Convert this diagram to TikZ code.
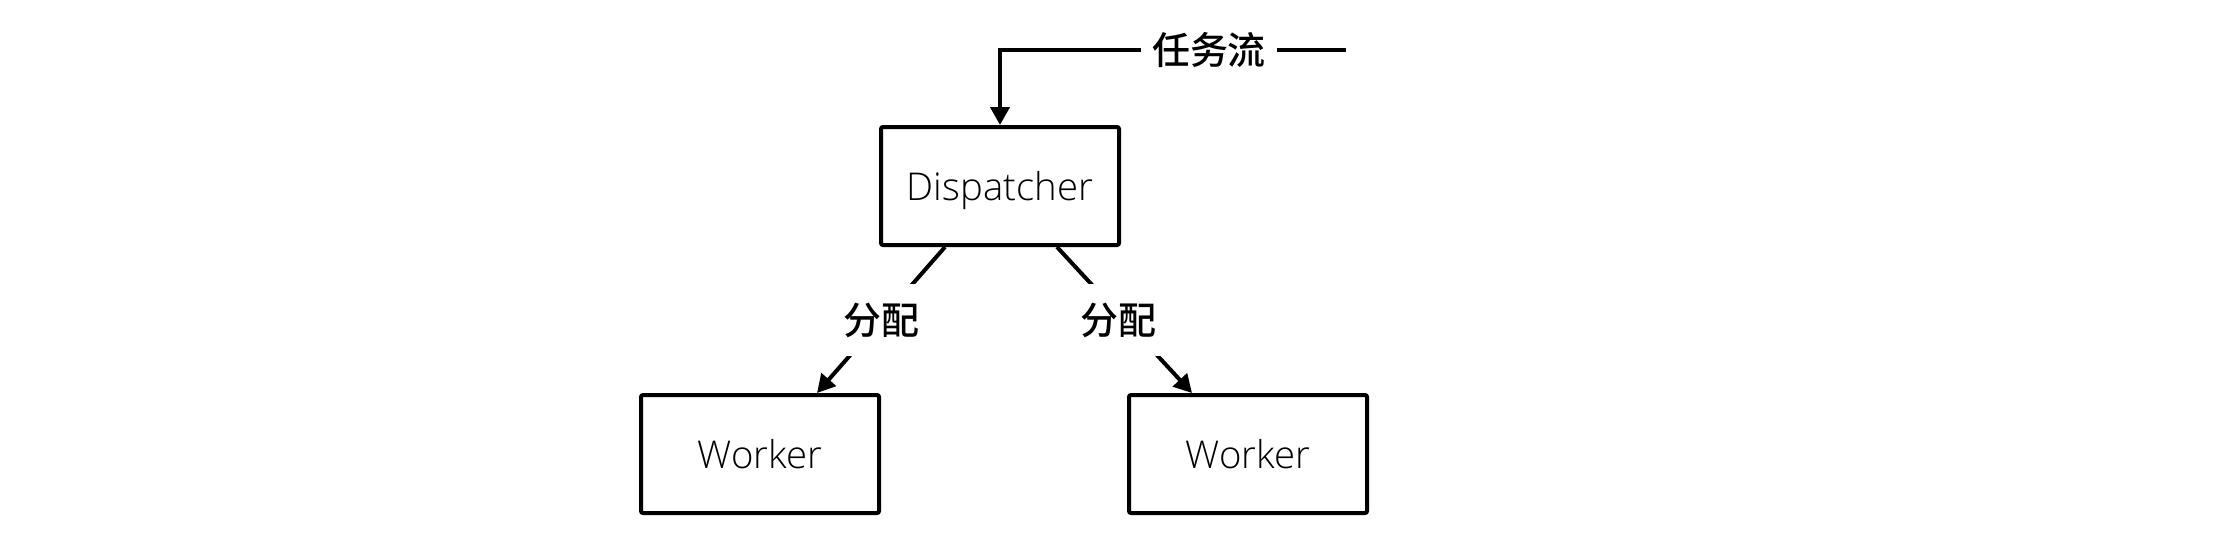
\documentclass[tikz,border=0pt]{standalone}
\usepackage{fontspec}
\setmainfont{Noto Sans CJK SC}
\newfontfamily\cjkmed{Noto Sans CJK SC Medium}
\newfontfamily\latinfont{Open Sans}[UprightFont={* Light}]
\usetikzlibrary{arrows.meta}
\begin{document}
\begin{tikzpicture}[x=0.02cm,y=-0.02cm,
  box/.style={draw=black,line width=0.08cm,rounded corners=0.04cm,fill=white,
    minimum width=238*0.02cm,minimum height=118*0.02cm,inner sep=0pt,
    text height=17pt,text depth=0pt,
    font=\latinfont\fontsize{21.8pt}{26pt}\selectfont},
  lab/.style={fill=white,inner xsep=11.5*0.02cm,inner ysep=17*0.02cm,
    text height=19pt,text depth=2.6pt,
    font=\cjkmed\fontsize{21.6pt}{25pt}\selectfont},
  conn/.style={line width=0.08cm,-{Triangle[length=18*0.02cm,width=19*0.02cm]}}
]
\useasboundingbox (0,0) rectangle (2234,532);
\node[box] (disp) at (1000,186) {Dispatcher};
\node[box] (w1) at (760,454) {Worker};
\node[box] (w2) at (1248,454) {Worker};
\coordinate (start) at (1346,50);
\coordinate (corner) at (1000,50);
\draw[conn] (start) -- node[lab,pos=0.396] (tlab) {任务流} (corner) -- (disp.north);
\draw[conn] ([xshift=-55*0.02cm]disp.south) -- node[lab] (l1) {分配} ([xshift=57*0.02cm]w1.north);
\draw[conn] ([xshift=57*0.02cm]disp.south) -- node[lab,xshift=-6*0.02cm] (l2) {分配} ([xshift=-56*0.02cm]w2.north);
\end{tikzpicture}
\end{document}
